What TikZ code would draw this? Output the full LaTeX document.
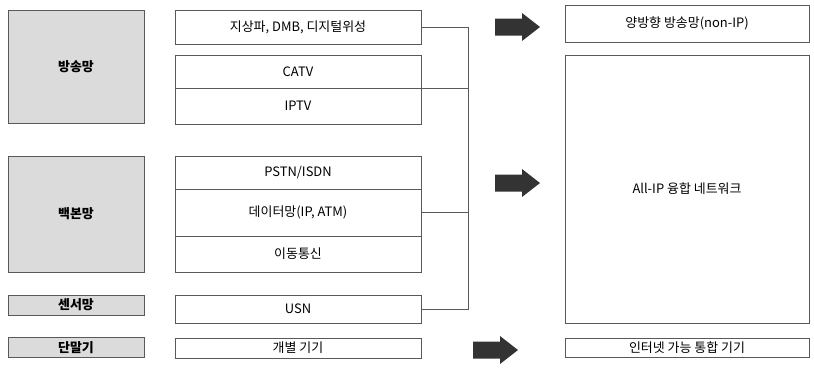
\documentclass[tikz,border=0pt]{standalone}
\usepackage{fontspec}
\setmainfont{Noto Sans CJK KR}
\begin{document}
\begin{tikzpicture}[x=1bp,y=-1bp,
  every node/.style={font=\fontsize{13}{15}\selectfont},
  netbox/.style={draw=gray!70!black, fill=gray!28, line width=0.6pt, minimum width=136bp, inner sep=0pt, font=\fontsize{13}{15}\selectfont\bfseries},
  midbox/.style={draw=gray!70!black, fill=white, line width=0.6pt, minimum width=246bp, inner sep=0pt},
  rbox/.style={draw=gray!70!black, fill=white, line width=0.6pt, minimum width=244bp, inner sep=0pt},
  conn/.style={draw=gray!70!black, line width=0.6pt},
  bigarr/.pic={\fill[gray!40!black] (0,-8.5) -- (27,-8.5) -- (27,-14) -- (45,0) -- (27,14) -- (27,8.5) -- (0,8.5) -- cycle;}
]
\useasboundingbox (0,0) rectangle (814,379);
% left category boxes
\node[netbox, minimum height=113bp] (n1) at (76,66.5) {방송망};
\node[netbox, minimum height=116bp] (n2) at (76,214) {백본망};
\node[netbox, minimum height=20bp] (n3) at (76,305) {센서망};
\node[netbox, minimum height=20bp] (n4) at (76,347.5) {단말기};
% middle boxes
\node[midbox, minimum height=34bp] (m1) at (298,27) {지상파, DMB, 디지털위성};
\node[midbox, minimum height=33bp] (catv) at (298,71.5) {CATV};
\node[midbox, minimum height=36bp] (iptv) at (298,106) {IPTV};
\node[midbox, minimum height=33bp] (pstn) at (298,172.5) {PSTN/ISDN};
\node[midbox, minimum height=47bp] (data) at (298,212.5) {데이터망(IP, ATM)};
\node[midbox, minimum height=36bp] (mob) at (298,254) {이동통신};
\node[midbox, minimum height=28bp] (usn) at (298,309) {USN};
\node[midbox, minimum height=20bp] (dev) at (298,348) {개별 기기};
% right boxes
\node[rbox, minimum height=37bp] (r1) at (687,23.5) {양방향 방송망(non-IP)};
\node[rbox, minimum height=268bp] (r2) at (687,189) {All-IP 융합 네트워크};
\node[rbox, minimum height=19bp] (r3) at (687,347.5) {인터넷 가능 통합 기기};
% connectors
\coordinate (bt) at (468,27);
\coordinate (bb) at (468,309);
\draw[conn] (m1.east) -- (bt) -- (bb) -- (usn.east);
\draw[conn] (catv.south east) -- (catv.south east -| bt);
\draw[conn] (data.east) -- (data.east -| bt);
% arrows
\pic (a1) at (495,27) {bigarr};
\pic (a2) at (495,183) {bigarr};
\pic (a3) at (473,350) {bigarr};
\end{tikzpicture}
\end{document}
